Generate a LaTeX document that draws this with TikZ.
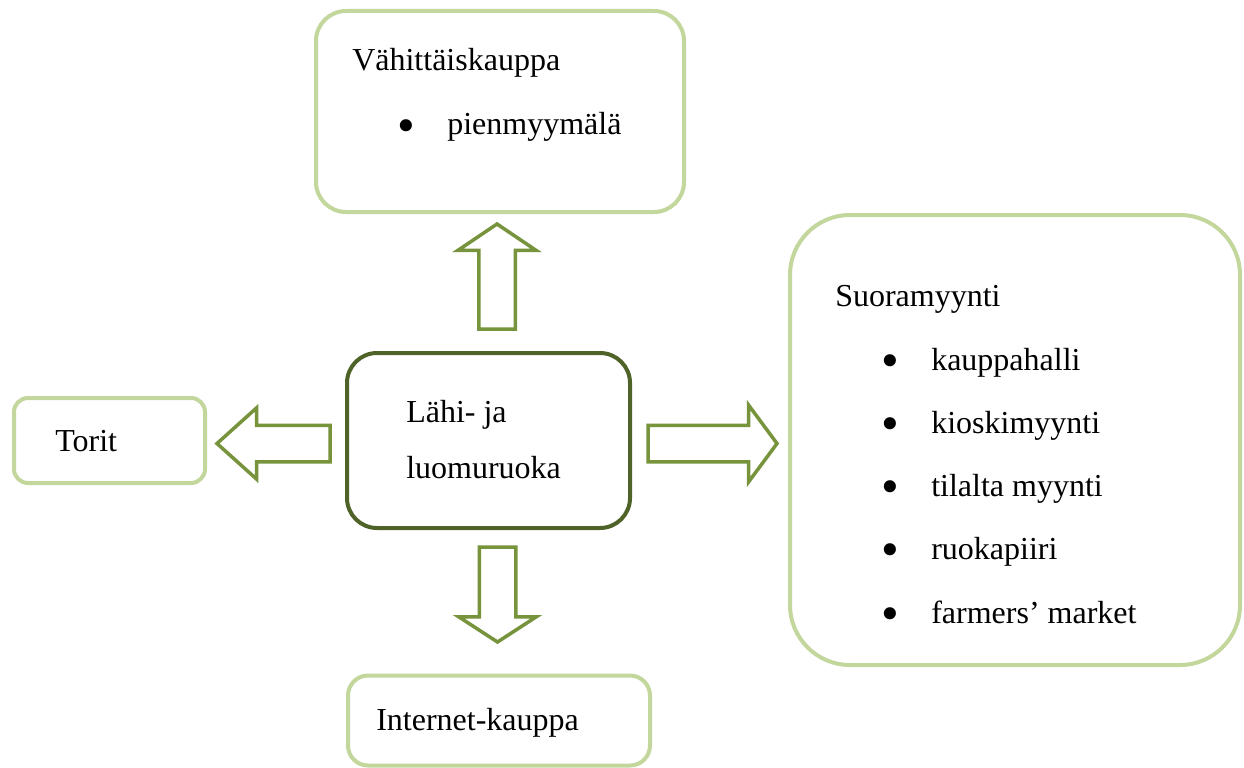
\documentclass[tikz,border=0pt]{standalone}
\usepackage{fontspec}
\setmainfont{Liberation Serif}
\usetikzlibrary{shapes.arrows}
\definecolor{palegreen}{HTML}{C3D69B}
\definecolor{darkolive}{HTML}{4F6228}
\definecolor{arrowgreen}{HTML}{77933C}
\newcommand\pxl{0.75pt}
\begin{document}
\begin{tikzpicture}[x=0.75pt,y=-0.75pt,
    box/.style={draw=palegreen,line width=4*\pxl,rounded corners=#1,inner sep=0pt,fill=white},
    mainbox/.style={draw=darkolive,line width=4*\pxl,rounded corners=30*\pxl,inner sep=0pt},
    label/.style={anchor=base west,inner sep=0pt,font=\fontsize{24}{30}\selectfont},
    dot/.style={anchor=base,inner sep=0pt,font=\fontsize{38}{40}\selectfont},
    blockarrow/.style={single arrow,draw=arrowgreen,fill=white,line width=3.5*\pxl,
      inner xsep=0pt,inner ysep=16.5*\pxl,outer sep=0pt,anchor=tail,
      single arrow head indent=0pt}]
\useasboundingbox (0,0) rectangle (1244,767);
% boxes
\node[box=30*\pxl,minimum width=368*\pxl,minimum height=201*\pxl] (retail) at (500,111.5) {};
\node[box=60*\pxl,minimum width=450*\pxl,minimum height=450*\pxl] (direct) at (1015,440) {};
\node[box=14*\pxl,minimum width=191*\pxl,minimum height=85*\pxl] (market) at (109.5,440.5) {};
\node[box=20*\pxl,minimum width=302*\pxl,minimum height=90*\pxl] (web) at (499,720.5) {};
\node[mainbox,minimum width=283*\pxl,minimum height=175*\pxl] (food) at (488.5,440.5) {};
% texts
\node[label] (retailtitle) at (352,70) {Vähittäiskauppa};
\node[dot] (retaildot) at (406,142) {•};
\node[label] (retailitem) at (447,134) {pienmyymälä};
\node[label] (foodone) at (406,422) {Lähi- ja};
\node[label] (foodtwo) at (406,478) {luomuruoka};
\node[label] (markettitle) at (55,451) {Torit};
\node[label] (webtitle) at (376,730) {Internet-kauppa};
\node[label] (directtitle) at (835,306) {Suoramyynti};
\foreach \txt [count=\i] in {kauppahalli,kioskimyynti,tilalta myynti,ruokapiiri,farmers’ market}{
  \node[dot] (directdot-\i) at (890,377+63.3*\i-63.3) {•};
  \node[label] (directitem-\i) at (931,370+63.3*\i-63.3) {\txt};
}
% arrows
\node[blockarrow,rotate=90,minimum height=105*\pxl,single arrow head extend=21*\pxl,
  single arrow tip angle=112] (toretail) at (497,329) {};
\node[blockarrow,rotate=180,minimum height=113*\pxl,single arrow head extend=17.5*\pxl,
  single arrow tip angle=84] (tomarket) at (330,443.5) {};
\node[blockarrow,minimum height=129*\pxl,single arrow head extend=20*\pxl,
  single arrow tip angle=107] (todirect) at (648,443.5) {};
\node[blockarrow,rotate=-90,minimum height=95*\pxl,single arrow head extend=20.5*\pxl,
  single arrow tip angle=114] (toweb) at (497.5,547) {};
\end{tikzpicture}
\end{document}
